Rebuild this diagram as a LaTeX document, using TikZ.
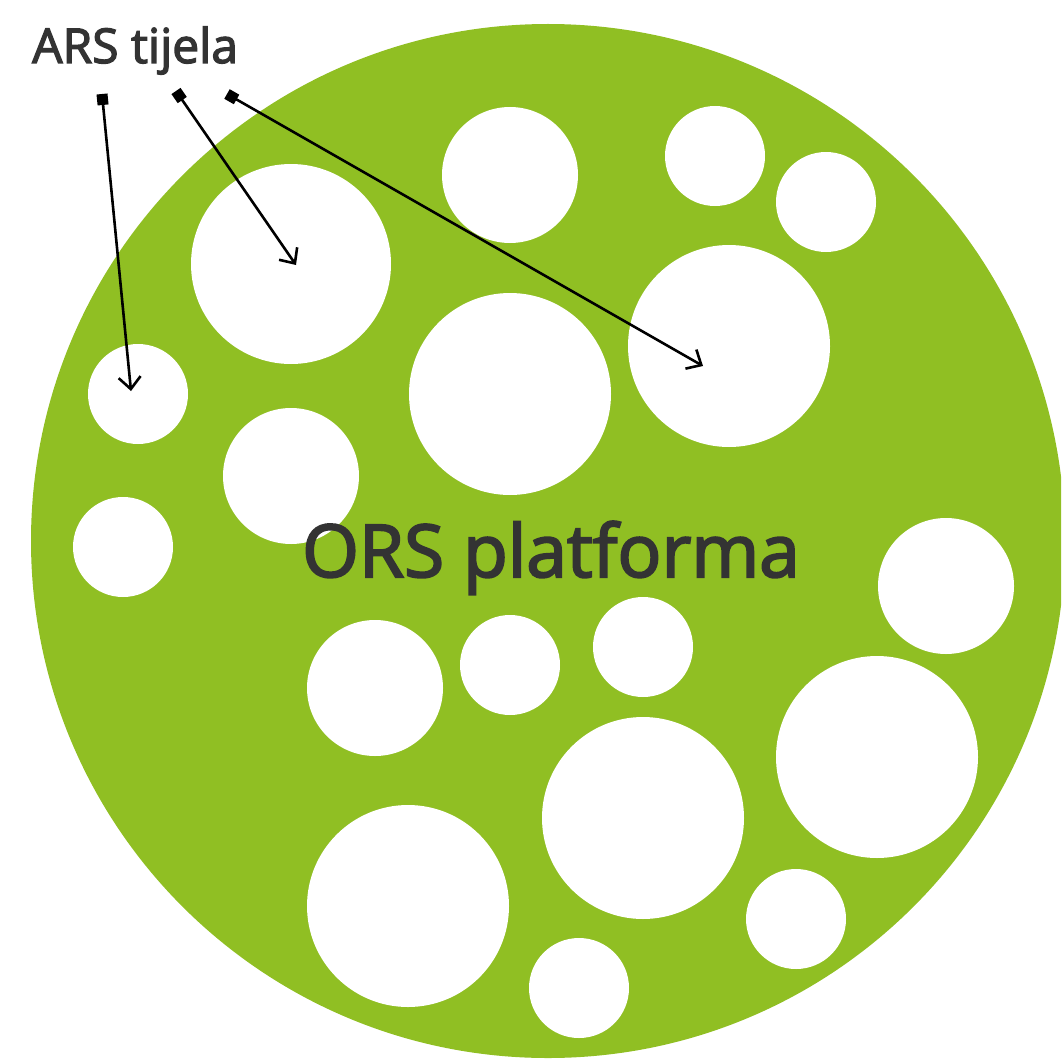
\documentclass[tikz,border=0pt]{standalone}
\usepackage{fontspec}
\setmainfont{Open Sans}
\usetikzlibrary{arrows.meta}
\definecolor{platgreen}{HTML}{90BF23}
\definecolor{labelgray}{HTML}{333333}
% fill-and-stroke text rendering for a heavier label weight
\newcommand{\heavy}[2]{\special{pdf:literal direct 2 Tr #1 w}#2\special{pdf:literal direct 0 Tr}}
\tikzset{
  hole/.style={fill=white},
  pointer/.style={draw=black, line width=2.6pt,
    {Square[length=11pt,width=11pt]}-{Straight Barb[length=12pt,width=22pt,line width=2.6pt]}},
  biglabel/.style={text=labelgray, font=\fontsize{73}{83}\selectfont, inner sep=0pt, anchor=base},
  smalllabel/.style={text=labelgray, font=\fontsize{48}{56}\selectfont, inner sep=0pt, anchor=base west}
}
\begin{document}
\begin{tikzpicture}[x=1pt,y=-1pt]
\useasboundingbox (0,0) rectangle (1061,1062);
\begin{scope}
\clip (0,0) rectangle (1061,1062);
% platform disc
\fill[platgreen] (548,541) circle[radius=517];
% member bodies
\foreach \cx/\cy/\r in {510/175/68, 715/156/50, 826/202/50, 291/264/100,
  729/346/101, 510/394/101, 138/394/50, 291/476/68, 123/547/50, 946/586/68,
  375/688/68, 510/665/50, 643/647/50, 877/757/101, 643/818/101, 408/906/101,
  796/919/50, 579/988/50}
  \fill[hole] (\cx,\cy) circle[radius=\r];
\end{scope}
\node[biglabel] (ors) at (551,577) {\heavy{2}{ORS platforma}};
\node[smalllabel] (ars) at (32,63) {\heavy{1.3}{ARS tijela}};
\coordinate (s1) at (102,94);
\coordinate (s2) at (176,91);
\coordinate (s3) at (227,94);
\coordinate (e1) at (131,391);
\coordinate (e2) at (296,265);
\coordinate (e3) at (703,366);
\draw[pointer] (s1) -- (e1);
\draw[pointer] (s2) -- (e2);
\draw[pointer] (s3) -- (e3);
\end{tikzpicture}
\end{document}
